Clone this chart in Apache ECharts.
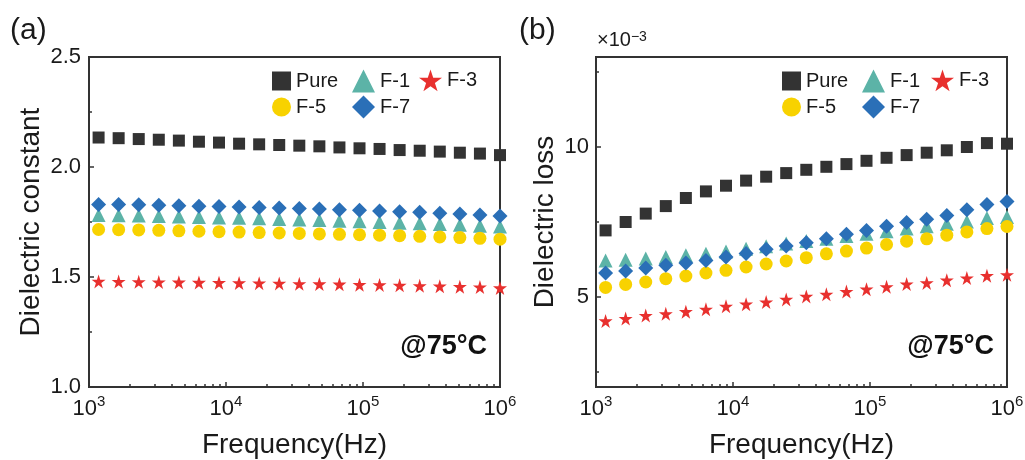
<!DOCTYPE html>
<html><head><meta charset="utf-8">
<script src="https://cdn.jsdelivr.net/npm/echarts@6/dist/echarts.min.js"></script>
<style>html,body{margin:0;padding:0;background:#fff}#c{width:1025px;height:460px}</style>
</head><body><div id="c"></div>
<script>
// ---- data ----
const freqHz = [1175, 1646, 2307, 3232, 4529, 6346, 8892, 12460, 17460, 24460, 34280, 48030, 67300, 94300, 132100, 185100, 259400, 363500, 509300, 713700, 1000000];
const seriesNames = ['Pure', 'F-1', 'F-3', 'F-5', 'F-7'];
// (a) dielectric constant
const constPure = [2.134, 2.131, 2.127, 2.124, 2.120, 2.115, 2.111, 2.106, 2.103, 2.100, 2.097, 2.094, 2.089, 2.085, 2.082, 2.077, 2.074, 2.070, 2.065, 2.061, 2.054];
const constF1 = [1.782, 1.781, 1.779, 1.777, 1.775, 1.773, 1.771, 1.769, 1.767, 1.764, 1.761, 1.759, 1.756, 1.753, 1.750, 1.747, 1.744, 1.741, 1.737, 1.733, 1.729];
const constF3 = [1.480, 1.479, 1.478, 1.477, 1.476, 1.475, 1.474, 1.473, 1.472, 1.471, 1.469, 1.468, 1.467, 1.465, 1.464, 1.462, 1.460, 1.458, 1.456, 1.454, 1.450];
const constF5 = [1.716, 1.715, 1.714, 1.712, 1.710, 1.708, 1.706, 1.704, 1.702, 1.700, 1.698, 1.696, 1.694, 1.692, 1.690, 1.688, 1.685, 1.682, 1.679, 1.676, 1.672];
const constF7 = [1.830, 1.829, 1.828, 1.826, 1.824, 1.822, 1.820, 1.818, 1.816, 1.814, 1.811, 1.809, 1.806, 1.803, 1.800, 1.797, 1.794, 1.790, 1.786, 1.782, 1.777];
// (b) dielectric loss, in units of 1e-3
const lossPure = [7.22, 7.50, 7.78, 8.03, 8.30, 8.52, 8.71, 8.88, 9.01, 9.13, 9.24, 9.34, 9.43, 9.54, 9.64, 9.73, 9.81, 9.89, 10.00, 10.13, 10.11];
const lossF1 = [6.22, 6.24, 6.28, 6.33, 6.39, 6.44, 6.52, 6.61, 6.69, 6.78, 6.87, 6.94, 7.03, 7.11, 7.19, 7.28, 7.36, 7.44, 7.52, 7.63, 7.67];
const lossF3 = [4.20, 4.28, 4.38, 4.44, 4.51, 4.59, 4.69, 4.76, 4.83, 4.92, 5.02, 5.09, 5.18, 5.26, 5.34, 5.43, 5.47, 5.56, 5.63, 5.71, 5.74];
const lossF5 = [5.32, 5.42, 5.50, 5.61, 5.70, 5.80, 5.89, 6.00, 6.10, 6.20, 6.31, 6.44, 6.53, 6.63, 6.75, 6.86, 6.94, 7.06, 7.17, 7.28, 7.35];
const lossF7 = [5.80, 5.87, 5.97, 6.06, 6.13, 6.22, 6.33, 6.45, 6.59, 6.70, 6.81, 6.94, 7.09, 7.22, 7.36, 7.48, 7.59, 7.72, 7.91, 8.08, 8.18];
// ticks
const yTicksA = [1.0, 1.5, 2.0, 2.5];
const yTicksB = [5, 10];
const yMinorB = [2.5, 7.5, 12.5];
const xMinorHz = [2000, 3000, 4000, 5000, 6000, 7000, 8000, 9000, 20000, 30000, 40000, 50000, 60000, 70000, 80000, 90000, 200000, 300000, 400000, 500000, 600000, 700000, 800000, 900000];

// ---- styles ----
const FONT = '"Liberation Sans", Arial, sans-serif';
const AX = '#333333';
const TXT = '#1a1a1a';
const colors = {'Pure': '#333333', 'F-1': '#5cb3a7', 'F-3': '#e8302e', 'F-5': '#f8d200', 'F-7': '#2a6fb7'};
const symbols = {'Pure': 'rect', 'F-1': 'triangle', 'F-3': 'path://M50,0 L61.8,36.2 L100,36.2 L69.1,58.6 L80.9,95.1 L50,72.7 L19.1,95.1 L30.9,58.6 L0,36.2 L38.2,36.2 Z', 'F-5': 'circle', 'F-7': 'diamond'};
const sizes = {'Pure': 12, 'F-1': 14, 'F-3': 14, 'F-5': 13, 'F-7': 15};

function xAxes(gi) {
  return [{
    type: 'log', logBase: 10, gridIndex: gi, min: 1000, max: 1000000, position: 'bottom',
    name: 'Frequency(Hz)', nameLocation: 'middle', nameGap: 44,
    nameTextStyle: {fontSize: 28, fontFamily: FONT, color: TXT},
    axisLine: {show: true, onZero: false, lineStyle: {color: AX, width: 2}},
    axisTick: {show: true, inside: true, length: 5, lineStyle: {color: AX, width: 1.5}},
    axisLabel: {
      margin: 7, color: TXT, fontFamily: FONT,
      formatter: v => '{b|10}{s|' + Math.round(Math.log10(v)) + '}',
      rich: {b: {fontSize: 22, fontFamily: FONT, color: TXT, lineHeight: 30},
             s: {fontSize: 15, fontFamily: FONT, color: TXT, lineHeight: 15, verticalAlign: 'top'}}
    },
    splitLine: {show: false}, minorTick: {show: false}
  }, {
    type: 'value', gridIndex: gi, min: 3, max: 6, position: 'bottom',
    axisLine: {show: false}, axisLabel: {show: false}, splitLine: {show: false},
    axisTick: {show: true, inside: true, length: 3, lineStyle: {color: AX, width: 1.5},
               customValues: xMinorHz.map(v => Math.log10(v))}
  }];
}

const option = {
  backgroundColor: '#fff',
  animation: false,
  grid: [
    {left: 89, right: 525, top: 57, bottom: 73, show: true, borderColor: AX, borderWidth: 2, containLabel: false, outerBoundsMode: 'none'},
    {left: 596, right: 18, top: 57, bottom: 73, show: true, borderColor: AX, borderWidth: 2, containLabel: false, outerBoundsMode: 'none'}
  ],
  xAxis: [...xAxes(0), ...xAxes(1)],
  yAxis: [
    {
      type: 'value', gridIndex: 0, min: 1.0, max: 2.5, interval: 0.5, position: 'left',
      name: 'Dielectric constant', nameLocation: 'middle', nameGap: 44,
      nameTextStyle: {fontSize: 28, fontFamily: FONT, color: TXT},
      axisLine: {show: true, lineStyle: {color: AX, width: 2}},
      axisTick: {show: true, inside: true, length: 5, lineStyle: {color: AX, width: 1.5}},
      minorTick: {show: true, splitNumber: 2, length: 3, lineStyle: {color: AX, width: 1.5}},
      axisLabel: {margin: 8, fontSize: 22, fontFamily: FONT, color: TXT, formatter: v => v.toFixed(1)},
      splitLine: {show: false}
    },
    {
      type: 'value', gridIndex: 1, min: 2, max: 13, position: 'left',
      name: 'Dielectric loss', nameLocation: 'middle', nameGap: 37,
      nameTextStyle: {fontSize: 28, fontFamily: FONT, color: TXT},
      axisLine: {show: true, lineStyle: {color: AX, width: 2}},
      axisTick: {show: true, inside: true, length: 5, lineStyle: {color: AX, width: 1.5}, customValues: yTicksB},
      axisLabel: {margin: 7, fontSize: 22, fontFamily: FONT, color: TXT, customValues: yTicksB},
      splitLine: {show: false}
    },
    {
      type: 'value', gridIndex: 1, min: 2, max: 13, position: 'left',
      axisLine: {show: false}, axisLabel: {show: false}, splitLine: {show: false},
      axisTick: {show: true, inside: true, length: 3, lineStyle: {color: AX, width: 1.5}, customValues: yMinorB}
    }
  ],
  legend: [],
  graphic: [
    {type: 'text', left: 10, top: 16, style: {text: '(a)', font: '30px ' + FONT, fill: TXT}},
    {type: 'text', left: 519, top: 16, style: {text: '(b)', font: '30px ' + FONT, fill: TXT}},
    {type: 'text', left: 597, top: 30, style: {text: '×10{s|−3}', font: '20px ' + FONT, fill: TXT,
      rich: {s: {fontSize: 14, fontFamily: FONT, fill: TXT, verticalAlign: 'top', lineHeight: 14}}}},
    {type: 'text', x: 487, y: 347, style: {text: '@75°C', font: 'bold 27px ' + FONT, fill: '#111', align: 'right', verticalAlign: 'middle'}},
    {type: 'text', x: 994, y: 347, style: {text: '@75°C', font: 'bold 27px ' + FONT, fill: '#111', align: 'right', verticalAlign: 'middle'}}
  ],
  series: []
};

const constData = [constPure, constF1, constF3, constF5, constF7];
const lossData = [lossPure, lossF1, lossF3, lossF5, lossF7];
seriesNames.forEach((n, i) => {
  option.series.push({
    name: n, type: 'scatter', xAxisIndex: 0, yAxisIndex: 0,
    symbol: symbols[n], symbolSize: sizes[n], itemStyle: {color: colors[n], opacity: 1},
    data: freqHz.map((f, k) => [f, constData[i][k]])
  });
  option.series.push({
    name: n, type: 'scatter', xAxisIndex: 2, yAxisIndex: 1,
    symbol: symbols[n], symbolSize: sizes[n], itemStyle: {color: colors[n], opacity: 1},
    data: freqHz.map((f, k) => [f, lossData[i][k]])
  });
});

function legendCol(left, top, names, sz, gap) {
  return {
    left: left, top: top, orient: 'vertical', data: names, padding: 0,
    itemWidth: sz, itemHeight: sz, itemGap: gap, selectedMode: false,
    textStyle: {fontSize: 20, fontFamily: FONT, color: TXT, lineHeight: 20}
  };
}
[[0, 272, 352, 419], [1, 782, 862, 931]].forEach(([g, c1, c2, c3]) => {
  option.legend.push(legendCol(c1, 71, ['Pure', 'F-5'], 19, 6));
  option.legend.push(legendCol(c2, 69.5, ['F-1', 'F-7'], 23, 3));
  option.legend.push(legendCol(c3, 69.5, ['F-3'], 23, 3));
});

const chart = echarts.init(document.getElementById('c'), null, {renderer: 'canvas'});
chart.setOption(option);
</script>
</body></html>
